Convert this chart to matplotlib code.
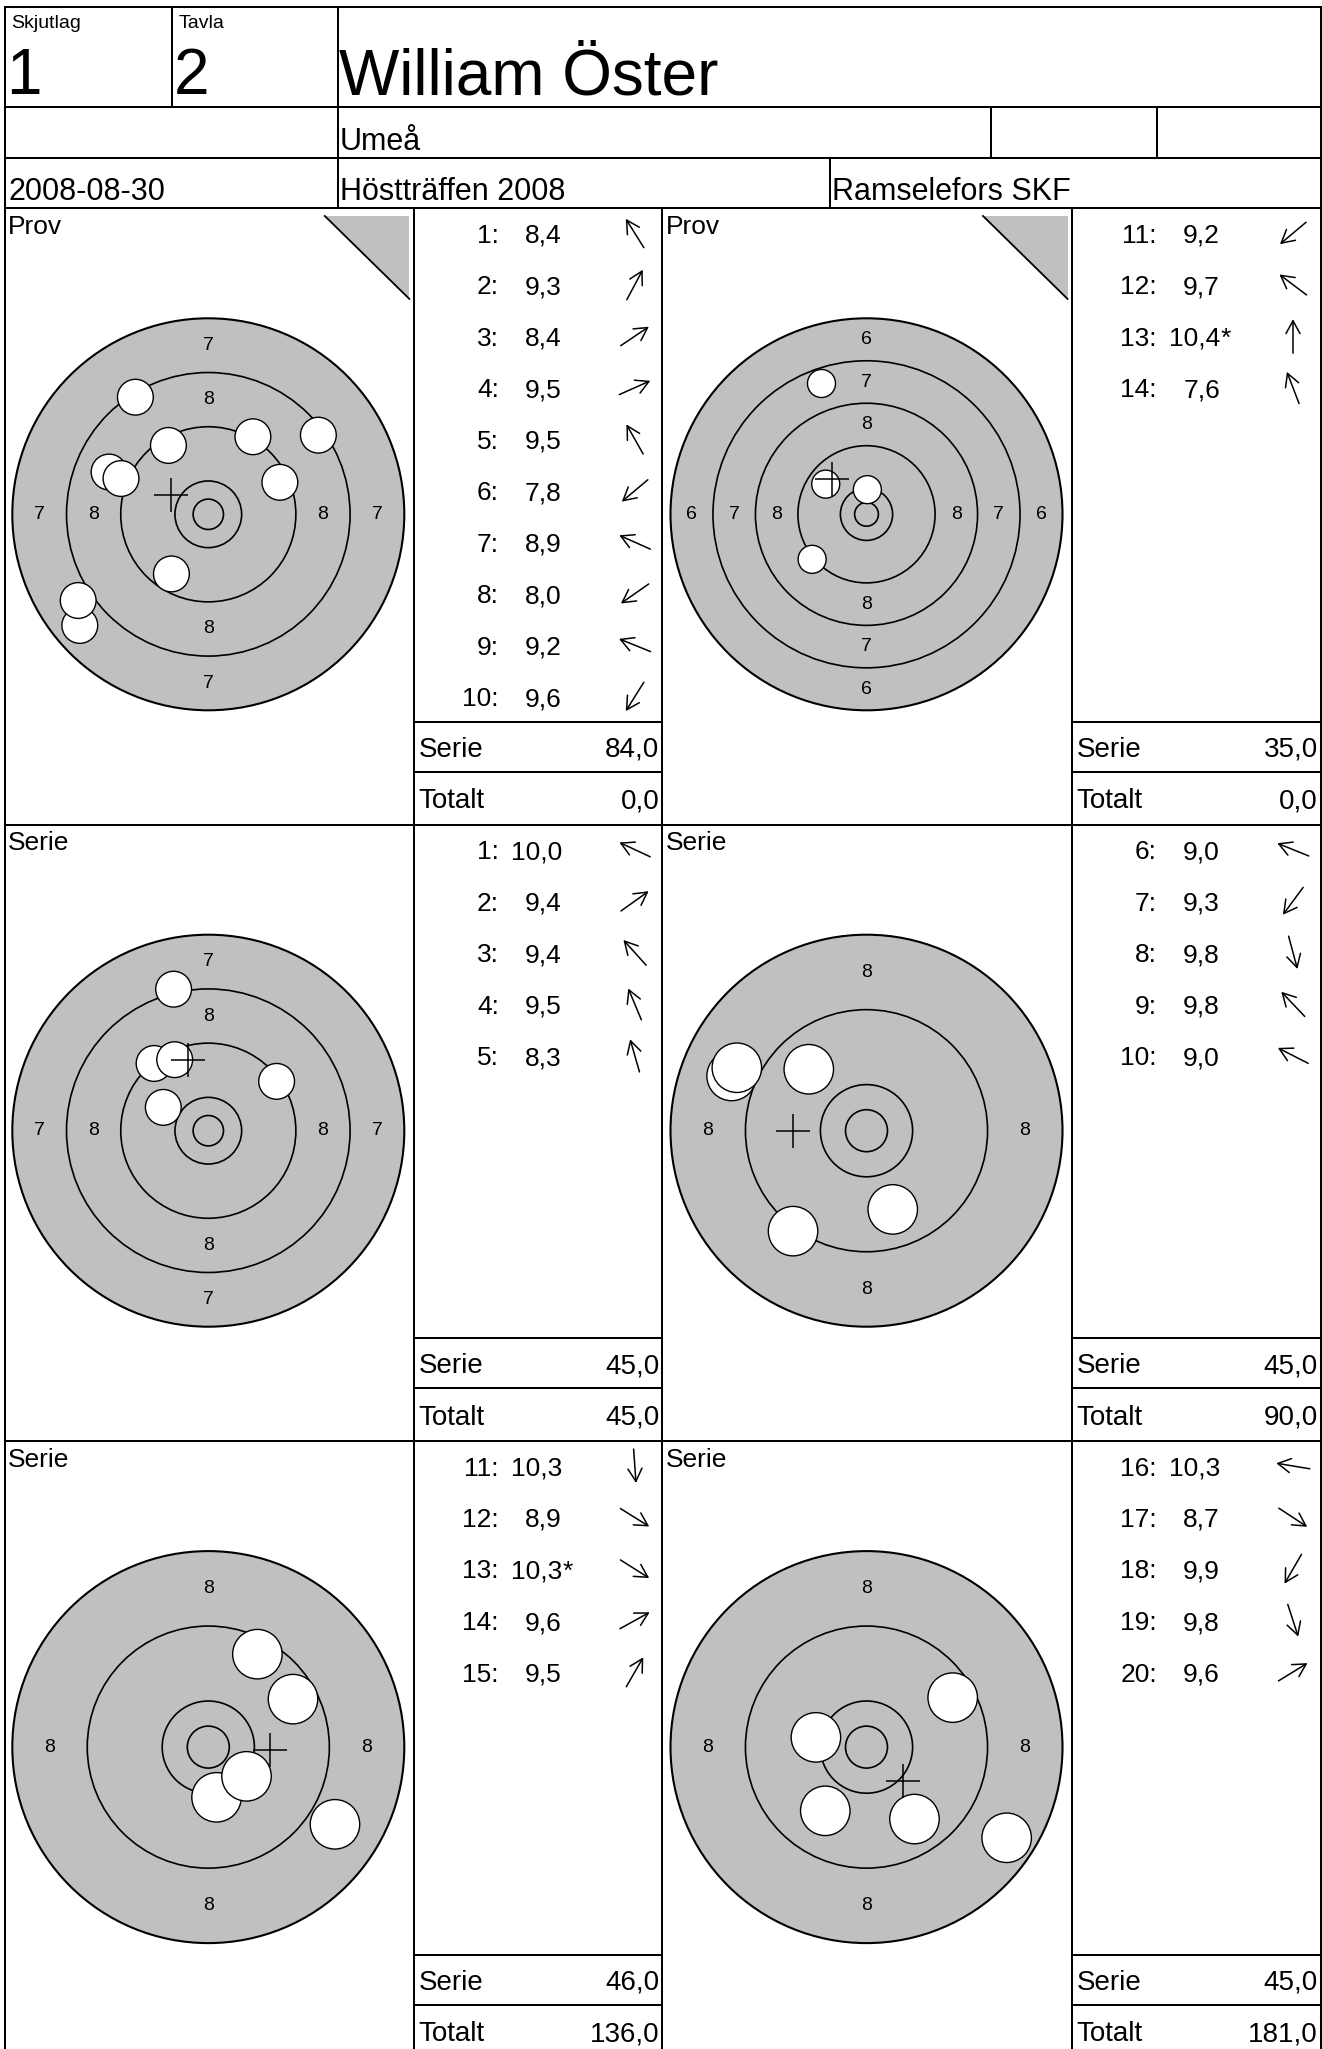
import numpy as np
import matplotlib
matplotlib.use("Agg")
import matplotlib.pyplot as plt
from matplotlib.patches import Circle, Polygon

plt.rcParams["font.family"] = ["Liberation Sans", "DejaVu Sans"]

# ---- header texts ----------------------------------------------------------
squad = "1"
lane = "2"
shooter = "William Öster"
town = "Umeå"
date = "2008-08-30"
event = "Höstträffen 2008"
club = "Ramselefors SKF"

# ---- six panels: 2 sighter (Prov) + 4 match series ------------------------
panel_titles = ["Prov", "Prov", "Serie", "Serie", "Serie", "Serie"]
outer_rings = [7, 6, 7, 8, 8, 8]          # lowest ring shown on each target
first_shot = [1, 11, 1, 6, 11, 16]
scores = [
    [8.4, 9.3, 8.4, 9.5, 9.5, 7.8, 8.9, 8.0, 9.2, 9.6],
    [9.2, 9.7, 10.4, 7.6],
    [10.0, 9.4, 9.4, 9.5, 8.3],
    [9.0, 9.3, 9.8, 9.8, 9.0],
    [10.3, 8.9, 10.3, 9.6, 9.5],
    [10.3, 8.7, 9.9, 9.8, 9.6],
]
inner_tens = [[], [13], [], [], [13], []]  # shot numbers marked with *
# shot positions in ring widths from the centre (y up), in shot order
shot_x = [
    [-1.345, 0.823, 2.03, 1.32, -0.736, -2.37, -1.83, -2.40, -1.61, -0.68],
    [-1.28, -0.96, 0.02, -1.06],
    [-0.83, 1.26, -1.00, -0.62, -0.64],
    [-1.80, -0.98, 0.35, -0.77, -1.73],
    [0.11, 1.69, 0.51, 1.13, 0.655],
    [-0.675, 1.87, -0.55, 0.64, 1.15],
]
shot_y = [
    [2.16, 1.43, 1.46, 0.59, 1.27, -2.05, 0.78, -1.59, 0.66, -1.10],
    [-1.06, 0.71, 0.58, 3.08],
    [0.43, 0.91, 1.24, 1.31, 2.61],
    [0.73, -1.34, -1.05, 0.82, 0.84],
    [-0.67, -1.03, -0.39, 0.64, 1.24],
    [0.13, -1.21, -0.85, -0.96, 0.66],
]
# direction arrows next to each score (degrees, counter-clockwise from east)
arrow_deg = [
    [122, 62, 34, 24, 119.5, 220, 156, 215, 158, 238],
    [220, 143, 90, 111],
    [155, 35.5, 132, 112.7, 106],
    [158, 233.5, 285, 133.5, 153],
    [274, 328, 327.7, 29, 60],
    [170.6, 326.7, 240, 288, 31.5],
]
serie_sums = [84.0, 35.0, 45.0, 45.0, 46.0, 45.0]
totals = [0.0, 0.0, 45.0, 90.0, 136.0, 181.0]

# ---- geometry (pixels) ----------------------------------------------------
W, H = 1322, 2049
ROW_TOPS = [208.3, 824.7, 1441.1]
COLS = [5, 413.8, 662.4, 1072, 1320.7]
R10, RX, SHOT_R = 0.615, 0.28, 0.33     # in ring widths
TARGET_PX = 196
GRAY = "#C0C0C0"
LW = 1.45


def fmt(v):
    return f"{v:.1f}".replace(".", ",")


fig = plt.figure(figsize=(W / 100, H / 100), dpi=100)
ax = fig.add_axes([0, 0, 1, 1])
ax.set_xlim(0, W)
ax.set_ylim(H, 0)
ax.axis("off")


def line(x0, y0, x1, y1, lw=LW):
    ax.plot([x0, x1], [y0, y1], color="black", lw=lw, solid_capstyle="projecting")


# header frame
for y in (7.3, 107.3, 157.7, 208.3, 824.7, 1441.1):
    line(COLS[0], y, COLS[-1], y)
line(COLS[0], 7.3, COLS[0], H + 5)
line(COLS[-1], 7.3, COLS[-1], H + 5)
for x in (171.7, 338.3):
    line(x, 7.3, x, 107.3)
for x in (338.3, 990.7, 1156.7):
    line(x, 107.3, x, 157.7)
for x in (338.3, 830):
    line(x, 157.7, x, 208.3)
for x in COLS[1:4]:
    line(x, 208.3, x, H + 5)

ax.text(11, 28.3, "Skjutlag", fontsize=14, va="baseline")
ax.text(179, 28.3, "Tavla", fontsize=14, va="baseline")
ax.text(6, 94.3, squad, fontsize=46, va="baseline")
ax.text(174, 94.3, lane, fontsize=46, va="baseline")
ax.text(339, 94.3, shooter, fontsize=46, va="baseline")
ax.text(340, 150, town, fontsize=22, va="baseline")
ax.text(8, 200, date, fontsize=22, va="baseline")
ax.text(340, 200, event, fontsize=22, va="baseline")
ax.text(832.5, 200, club, fontsize=22, va="baseline")

for p in range(6):
    top = ROW_TOPS[p // 2]
    left, sc_l, sc_r = COLS[2 * (p % 2)], COLS[2 * (p % 2) + 1], COLS[2 * (p % 2) + 2]

    ax.text(left + 3, top + 25.8, panel_titles[p], fontsize=19, va="baseline")
    if panel_titles[p] == "Prov":
        tri = Polygon([[sc_l - 89, top + 7.7], [sc_l - 4.5, top + 7.7],
                       [sc_l - 4.5, top + 90.6]], closed=True, fc=GRAY, ec="none")
        ax.add_patch(tri)
        line(sc_l - 89, top + 7.7, sc_l - 4.5, top + 90.6, lw=1.3)

    # score list
    for j, sc in enumerate(scores[p]):
        n = first_shot[p] + j
        yb = top + 34.4 + 51.5 * j
        ax.text(sc_l + 85, yb, f"{n}:", fontsize=19, ha="right", va="baseline")
        ax.text(sc_l + 148, yb, fmt(sc), fontsize=19, ha="right", va="baseline")
        if n in inner_tens[p]:
            ax.text(sc_l + 148.5, yb, "*", fontsize=19, ha="left", va="baseline")
        a = np.deg2rad(arrow_deg[p][j])
        cx, cy = sc_l + 221, yb - 9.5
        ux, uy = np.cos(a) * 17, -np.sin(a) * 17
        ax.annotate("", xy=(cx + ux, cy + uy), xytext=(cx - ux, cy - uy),
                    arrowprops=dict(arrowstyle="->,head_length=0.4,head_width=0.22",
                                    mutation_scale=23, lw=1.1, color="black",
                                    shrinkA=0, shrinkB=0))

    line(sc_l, top + 513.7, sc_r, top + 513.7)
    line(sc_l, top + 563.7, sc_r, top + 563.7)
    ax.text(sc_l + 4.5, top + 548.4, "Serie", fontsize=20, va="baseline")
    ax.text(sc_r - 3, top + 548.4, fmt(serie_sums[p]), fontsize=20, ha="right", va="baseline")
    ax.text(sc_l + 4.5, top + 600, "Totalt", fontsize=20, va="baseline")
    ax.text(sc_r - 3, top + 600, fmt(totals[p]), fontsize=20, ha="right", va="baseline")

    # target, in ring-width units
    outer = outer_rings[p]
    r_out = R10 + 10 - outer
    scale = TARGET_PX / r_out
    cxp, cyp = sc_l - 205.5, top + 306
    half = 206
    ta = fig.add_axes([(cxp - half) / W, 1 - (cyp + half) / H, 2 * half / W, 2 * half / H])
    lim = half / scale
    ta.set_xlim(-lim, lim)
    ta.set_ylim(-lim, lim)
    ta.axis("off")
    ta.patch.set_visible(False)
    ta.add_patch(Circle((0, 0), r_out, fc=GRAY, ec="black", lw=1.5, zorder=1))
    for k in range(outer + 1, 11):
        ta.add_patch(Circle((0, 0), R10 + 10 - k, fc="none", ec="black", lw=1.2, zorder=2))
    ta.add_patch(Circle((0, 0), RX, fc="none", ec="black", lw=1.2, zorder=2))
    for k in range(outer, 9):
        rr = R10 + 9.5 - k
        for dx, dy in ((0, rr), (0, -rr), (rr, 0), (-rr, 0)):
            ta.text(dx, dy, str(k), fontsize=14, ha="center", va="center", zorder=2)
    for j, (sx, sy) in enumerate(zip(shot_x[p], shot_y[p])):
        ta.add_patch(Circle((sx, sy), SHOT_R, fc="white", ec="black", lw=1.0, zorder=3 + j))
    ta.plot(np.mean(shot_x[p]), np.mean(shot_y[p]), marker="+", ms=24, mew=1.1,
            color="black", zorder=30)

fig.savefig("out.png", dpi=100, facecolor="white")
